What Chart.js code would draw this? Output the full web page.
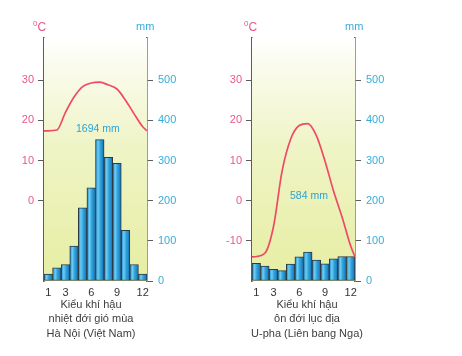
<!DOCTYPE html>
<html>
<head>
<meta charset="utf-8">
<script src="https://cdn.jsdelivr.net/npm/chart.js@4/dist/chart.umd.min.js"></script>
<style>
  html, body { margin: 0; padding: 0; background: #ffffff; }
  body { width: 462px; height: 356px; position: relative; overflow: hidden; font-family: "Liberation Sans", Arial, sans-serif; }
  .cv { position: absolute; top: 0; }
  .txt { position: absolute; white-space: nowrap; font-family: "Liberation Sans", Arial, sans-serif; }
  .unitC { color: #e8588c; font-size: 12px; }
  .unitC sup { font-size: 8px; vertical-align: 5px; }
  .unitMM { color: #35aedc; font-size: 11px; }
  .total { color: #2aa3da; font-size: 10.5px; }
  .cap { color: #3d3d3d; font-size: 11px; line-height: 14.3px; text-align: center; width: 160px; }
</style>
</head>
<body>
<div id="c1" class="cv" style="left:0px;width:200px;height:300px;"><canvas id="chart1"></canvas></div>
<div id="c2" class="cv" style="left:208px;width:200px;height:300px;"><canvas id="chart2"></canvas></div>

<div class="txt unitC" style="left:33px;top:19px;"><sup>0</sup>C</div>
<div class="txt unitMM" style="left:136px;top:20px;">mm</div>
<div class="txt unitC" style="left:244px;top:19px;"><sup>0</sup>C</div>
<div class="txt unitMM" style="left:345px;top:20px;">mm</div>

<div class="txt total" style="left:76px;top:122px;">1694 mm</div>
<div class="txt total" style="left:290px;top:189px;">584 mm</div>

<div class="txt cap" style="left:11px;top:297px;">Kiểu khí hậu<br>nhiệt đới gió mùa<br>Hà Nội (Việt Nam)</div>
<div class="txt cap" style="left:227px;top:297px;">Kiểu khí hậu<br>ôn đới lục địa<br>U-pha (Liên bang Nga)</div>

<script>
// ---- data ----
const months = [1, 2, 3, 4, 5, 6, 7, 8, 9, 10, 11, 12];
const monthTickLabels = [1, 3, 6, 9, 12];
// positions (month number) along the temperature curve, incl. the two chart edges
const curveMonths = [0.5, 1, 2, 3, 4, 5, 6, 7, 8, 9, 10, 11, 12, 12.5];

const rainHanoi = [17, 33, 41, 87, 182, 232, 352, 308, 293, 126, 41, 17];
const tempHanoi = [17.4, 17.4, 17.6, 22.0, 25.8, 28.4, 29.3, 29.5, 28.8, 27.8, 25.0, 21.6, 18.4, 17.4];

const rainUfa = [44, 37, 29, 26, 42, 60, 72, 52, 43, 55, 61, 61];
const tempUfa = [-14.0, -13.9, -13.1, -6.5, 7.3, 15.3, 18.7, 19.2, 16.2, 9.9, 2.4, -4.1, -11.3, -14.0];

const tempTicksHanoi = [0, 10, 20, 30];
const tempTicksUfa = [-10, 0, 10, 20, 30];
const rainTicks = [0, 100, 200, 300, 400, 500];

// ---- styling ----
const FONT = '"Liberation Sans", Arial, sans-serif';
const PINK = '#e8588c';
const CYAN = '#35aedc';
const AXIS = '#5c5c5c';

const bgPlugin = {
  id: 'bgFill',
  beforeDatasetsDraw(chart) {
    const a = chart.chartArea; if (!a) return;
    const ctx = chart.ctx;
    const g = ctx.createLinearGradient(0, a.top, 0, a.bottom);
    g.addColorStop(0, 'rgba(255,255,255,1)');
    g.addColorStop(0.12, 'rgba(250,251,236,1)');
    g.addColorStop(0.45, '#eff4c6');
    g.addColorStop(1, '#e6eea2');
    ctx.save();
    ctx.fillStyle = g;
    ctx.fillRect(a.left, a.top, a.right - a.left, a.bottom - a.top);
    ctx.restore();
  }
};

function barFill(context) {
  const chart = context.chart;
  const xs = chart.scales && chart.scales.x;
  if (!xs || !chart.chartArea || context.dataIndex === undefined) return '#2a9ad8';
  const cx = xs.getPixelForValue(months[context.dataIndex]);
  const w = Math.abs(xs.getPixelForValue(2) - xs.getPixelForValue(1));
  const g = chart.ctx.createLinearGradient(cx - w / 2, 0, cx + w / 2, 0);
  g.addColorStop(0, '#1f86c6');
  g.addColorStop(0.3, '#6fcdf3');
  g.addColorStop(0.55, '#31a5df');
  g.addColorStop(1, '#1670b2');
  return g;
}

function makeChart(id, rain, temp, tempTicks) {
  const ctx = document.getElementById(id);
  return new Chart(ctx, {
    type: 'bar',
    data: {
      datasets: [
        {
          type: 'line',
          data: curveMonths.map((m, i) => ({ x: m, y: temp[i] })),
          xAxisID: 'x', yAxisID: 'y',
          borderColor: '#ee4a68', borderWidth: 1.7,
          pointRadius: 0, cubicInterpolationMode: 'monotone',
          fill: false, order: 0
        },
        {
          type: 'bar',
          data: months.map((m, i) => ({ x: m, y: rain[i] })),
          xAxisID: 'x', yAxisID: 'y1',
          backgroundColor: barFill,
          borderColor: '#2c3a44', borderWidth: 1, borderSkipped: false,
          barPercentage: 1, categoryPercentage: 1, grouped: false, order: 1
        }
      ]
    },
    options: {
      responsive: true, maintainAspectRatio: false, animation: false,
      devicePixelRatio: 1,
      layout: { padding: { left: 0, right: 0, top: 38, bottom: 0 } },
      plugins: { legend: { display: false }, tooltip: { enabled: false }, title: { display: false } },
      scales: {
        x: {
          type: 'linear', min: 0.5, max: 12.5, offset: false, position: 'bottom',
          afterBuildTicks(s) { s.ticks = monthTickLabels.map(v => ({ value: v })); },
          grid: { display: false, drawTicks: false, offset: false },
          border: { display: false },
          ticks: {
            autoSkip: false, maxRotation: 0, padding: 5,
            color: '#333', font: { family: FONT, size: 11 }
          },
          afterFit(s) { s.height = 19; }
        },
        y: {
          position: 'left', min: -20, max: 40.5,
          afterBuildTicks(s) { s.ticks = tempTicks.map(v => ({ value: v })); },
          afterFit(s) { s.width = 44; },
          ticks: { color: PINK, font: { family: FONT, size: 11 }, padding: 4 },
          grid: { drawOnChartArea: false, drawTicks: true, tickLength: 6, color: AXIS, lineWidth: 1 },
          border: { display: true, color: AXIS, width: 1.6 }
        },
        y1: {
          position: 'right', min: 0, max: 605,
          afterBuildTicks(s) { s.ticks = rainTicks.map(v => ({ value: v })); },
          afterFit(s) { s.width = 53; },
          ticks: { color: CYAN, font: { family: FONT, size: 11 }, padding: 5 },
          grid: { drawOnChartArea: false, drawTicks: true, tickLength: 6, color: AXIS, lineWidth: 1 },
          border: { display: true, color: AXIS, width: 1.6 }
        }
      }
    },
    plugins: [bgPlugin]
  });
}

makeChart('chart1', rainHanoi, tempHanoi, tempTicksHanoi);
makeChart('chart2', rainUfa, tempUfa, tempTicksUfa);
</script>
</body>
</html>
